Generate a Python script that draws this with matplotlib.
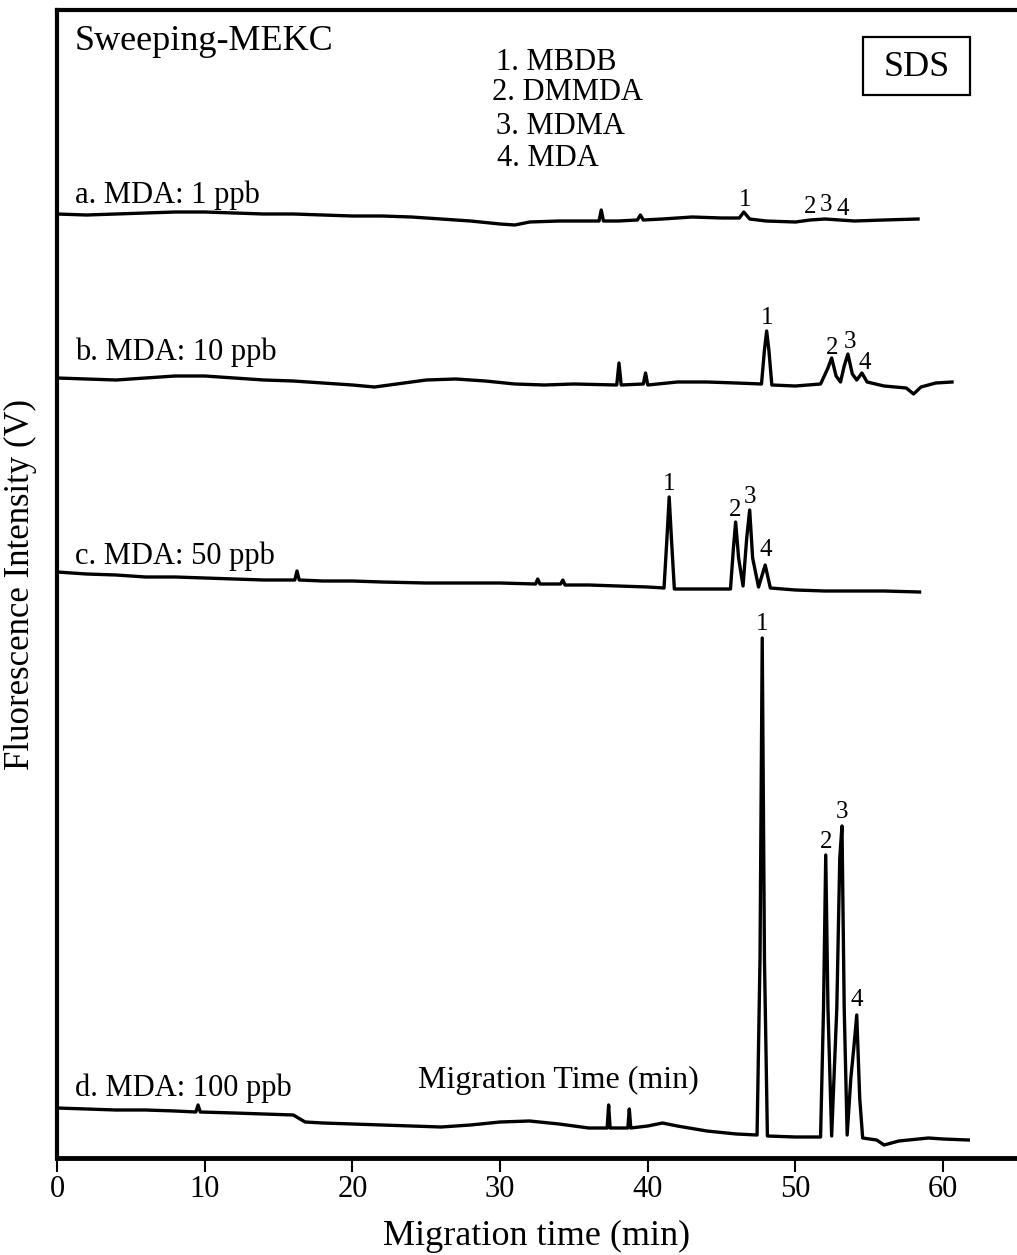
import matplotlib
matplotlib.use("Agg")
import matplotlib.pyplot as plt
from matplotlib.patches import Rectangle

plt.rcParams["font.family"] = ["Liberation Serif", "DejaVu Serif"]

# Electropherograms (migration time in min, fluorescence signal in arbitrary
# units; each trace already carries its own vertical offset in the stack).
t_a = [0, 2, 4, 6, 8, 10, 12, 14, 16, 18, 20, 22, 24, 26, 28, 30, 31, 32, 34, 36,
       36.7, 36.85, 37.0, 38, 39.3, 39.5, 39.7, 41, 43, 45, 46.2, 46.5, 46.9, 48,
       50, 51.0, 52.0, 53.0, 54, 56, 58.3]
y_a = [944, 943, 944, 945, 946, 946, 945, 944, 944, 943, 942, 942, 941, 939, 937,
       934, 933, 936, 937, 937, 937, 948, 937, 937, 938, 943, 938, 939, 941, 940,
       940, 946, 939, 937, 936, 938, 939, 938, 937, 938, 939]

t_b = [0, 2, 4, 6, 8, 10, 12, 14, 16, 18, 20, 21.5, 23, 25, 27, 29, 31, 33, 35,
       37.9, 38.05, 38.2, 39.7, 39.85, 40.0, 42, 44, 46, 47.7, 47.9, 48.05, 48.2,
       48.4, 50, 51.7, 52.2, 52.45, 52.75, 53.05, 53.3, 53.55, 53.85, 54.15, 54.5,
       54.85, 56, 57.5, 58.0, 58.5, 59.5, 60.6]
y_b = [780, 779, 778, 780, 782, 782, 780, 778, 777, 775, 773, 771, 774, 778, 779,
       777, 774, 773, 774, 773, 795, 773, 774, 785, 773, 776, 776, 775, 774, 808,
       827, 808, 773, 772, 774, 790, 800, 782, 776, 792, 804, 784, 778, 785, 776,
       772, 770, 764, 771, 775, 776]

t_c = [0, 2, 4, 6, 8, 10, 12, 14, 16.1, 16.25, 16.4, 18, 20, 22, 25, 28, 30, 32.4,
       32.55, 32.7, 34.1, 34.25, 34.4, 36, 38, 40, 41.1, 41.3, 41.45, 41.6, 41.8,
       44, 45.6, 45.8, 45.95, 46.15, 46.45, 46.7, 46.9, 47.1, 47.5, 47.95, 48.3,
       50, 52, 54, 56, 58.4]
y_c = [586, 584, 583, 581, 581, 580, 579, 578, 578, 587, 578, 577, 577, 576, 575,
       575, 575, 574, 579, 574, 574, 578, 573, 573, 572, 571, 570, 620, 661, 620,
       569, 569, 569, 610, 636, 600, 572, 620, 648, 600, 571, 593, 570, 568, 567,
       567, 567, 566]

t_d = [0, 2, 4, 6, 8, 9.4, 9.55, 9.7, 12, 14, 16, 16.8, 18, 20, 22, 24, 26, 28,
       30, 32, 34, 36, 37.25, 37.35, 37.45, 38.65, 38.75, 38.85, 40, 41, 42, 44, 46,
       47.4, 47.6, 47.75, 47.9, 48.1, 50, 51.7, 51.9, 52.05, 52.2,
       52.45, 52.8, 53.0, 53.15, 53.3, 53.5, 53.75, 53.95, 54.15, 54.35, 54.55,
       55.5, 56.0, 57, 59, 60, 61.7]
y_d = [50, 49, 48, 48, 47, 46, 53, 46, 45, 44, 43, 36, 35, 34, 33, 32, 31, 33, 36,
       37, 34, 30, 30, 53, 30, 30, 49, 30, 32, 35, 32, 27, 24, 23, 200, 520,
       200, 22, 21, 21, 150, 303, 150, 22, 150, 300, 332, 150, 23, 80, 110,
       143, 60, 20, 18, 13, 17, 20, 19, 18]

traces = [(t_a, y_a), (t_b, y_b), (t_c, y_c), (t_d, y_d)]

trace_labels = ["a. MDA: 1 ppb", "b. MDA: 10 ppb", "c. MDA: 50 ppb",
                "d. MDA: 100 ppb"]
compounds = ["1. MBDB", "2. DMMDA", "3. MDMA", "4. MDA"]
peak_ids = ["1", "2", "3", "4"]

# Peak number annotations: (time, signal) per trace
peak_marks_a = [(46.6, 958), (51.0, 951), (52.1, 953), (53.2, 949)]
peak_marks_b = [(48.1, 840), (52.5, 810), (53.7, 816), (54.7, 795)]
peak_marks_c = [(41.45, 674), (45.9, 648), (46.95, 661), (48.0, 608)]
peak_marks_d = [(47.75, 534), (52.05, 316), (53.15, 346), (54.15, 158)]
peak_marks = [peak_marks_a, peak_marks_b, peak_marks_c, peak_marks_d]

W, H = 1017, 1255
fig = plt.figure(figsize=(W / 100, H / 100), dpi=100)
ax = fig.add_axes([57 / W, 1 - 1158 / H, 1 - 57 / W, 1148 / H])


def fx(px):
    return px / W


def fy(py):
    return 1 - py / H


for t, y in traces:
    ax.plot(t, y, color="black", lw=2.4, solid_joinstyle="round")

for marks in peak_marks:
    for pid, (t, y) in zip(peak_ids, marks):
        ax.text(t, y, pid, ha="center", va="center", fontsize=18)

ax.set_xlim(0, 65)
ax.set_ylim(0, 1148)
ax.set_xticks([0, 10, 20, 30, 40, 50, 60])
ax.set_yticks([])
ax.tick_params(axis="x", direction="out", length=10, width=1.5, pad=2,
               labelsize=22)
for side in ("left", "top", "bottom"):
    ax.spines[side].set_linewidth(3)
ax.spines["bottom"].set_linewidth(3.5)
ax.spines["right"].set_visible(False)

ax.set_xlabel("Migration time (min)", fontsize=26, labelpad=12)
ax.set_ylabel("Fluorescence Intensity (V)", fontsize=25)
ax.yaxis.set_label_coords(-0.021, 0.5)

# Annotations
fig.text(fx(75), fy(42), "Sweeping-MEKC", fontsize=26, ha="left", va="center")
label_rows = [195, 352, 556, 1088]
for txt, row in zip(trace_labels, label_rows):
    fig.text(fx(75), fy(row), txt, fontsize=22, ha="left", va="center")
fig.text(fx(418), fy(1080), "Migration Time (min)", fontsize=23, ha="left",
         va="center")

list_rows = [62, 93, 126, 159]
list_left = [496, 492, 496, 497]
for txt, row, left in zip(compounds, list_rows, list_left):
    fig.text(fx(left), fy(row), txt, fontsize=22, ha="left", va="center")

fig.patches.append(Rectangle((fx(863), fy(95)), fx(970) - fx(863),
                             fy(37) - fy(95), transform=fig.transFigure,
                             fill=False, edgecolor="black", lw=1.6))
fig.text(fx(916.5), fy(67), "SDS", fontsize=26, ha="center", va="center")

fig.savefig("out.png", dpi=100)
